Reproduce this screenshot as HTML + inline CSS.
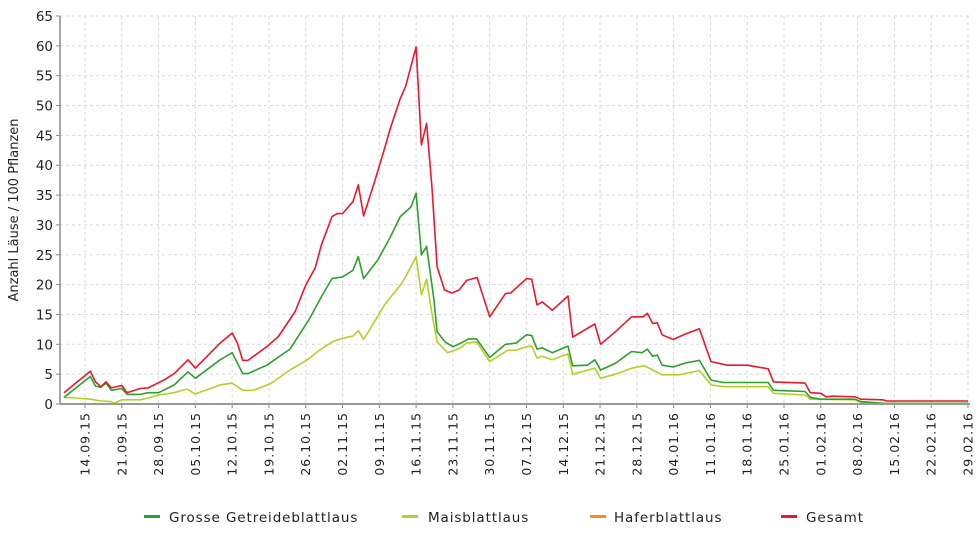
<!DOCTYPE html>
<html><head><meta charset="utf-8"><style>
body{margin:0;background:#fff;}
svg{display:block;font-family:"DejaVu Sans","Liberation Sans",sans-serif;}
</style></head><body>
<svg id="chart" width="978" height="540" viewBox="0 0 978 540" xmlns="http://www.w3.org/2000/svg">
<g id="grid"></g>
<g id="series"></g>
<g id="axes"></g>
<text transform="translate(18,210) rotate(-90)" text-anchor="middle" font-size="13" fill="#222">Anzahl Läuse / 100 Pflanzen</text>
<g font-size="13.5" fill="#222" letter-spacing="0.9">
 <g><rect x="144" y="515" width="16" height="3" fill="#2ca02c"/><text x="169" y="522">Grosse Getreideblattlaus</text></g>
 <g><rect x="402" y="515" width="16" height="3" fill="#b5cf2a"/><text x="428" y="522">Maisblattlaus</text></g>
 <g><rect x="590" y="515" width="16" height="3" fill="#ff8c1a"/><text x="614" y="522">Haferblattlaus</text></g>
 <g><rect x="781" y="515" width="16" height="3" fill="#e8192c"/><text x="806" y="522">Gesamt</text></g>
</g>
</svg>
<script>
const tickLabels=["14.09.15","21.09.15","28.09.15","05.10.15","12.10.15","19.10.15","26.10.15","02.11.15","09.11.15","16.11.15","23.11.15","30.11.15","07.12.15","14.12.15","21.12.15","28.12.15","04.01.16","11.01.16","18.01.16","25.01.16","01.02.16","08.02.16","15.02.16","22.02.16","29.02.16"];
const yTicks=[0,5,10,15,20,25,30,35,40,45,50,55,60,65];
// day offsets from 14.09.15 and values
const gesamtDays=[-4,1,2,3,4,5,7,8,10.5,12,15,17,19.6,21,25.7,28,29,30,31,34.6,36.8,40,42,43.8,45,47,48,49,51,52,53,55,57,58,60,61,63,64,65,66,67,68.4,69.8,71.2,72.6,74.6,77,80,81,84,85,86,87,88.9,91.9,92.8,97,98.1,100.9,104,106.2,107,108,108.9,109.8,111.9,114.4,116.9,119.1,122.2,126,130,131,137,138,140,141,142.2,146.5,147.6,151.8,152.6,168];
const gesamtVals=[1.9,5.5,3.7,2.9,3.7,2.7,3.1,1.9,2.6,2.7,4,5.1,7.4,6,10.2,11.9,10.2,7.3,7.3,9.6,11.3,15.5,19.9,22.8,26.7,31.4,31.9,31.9,33.9,36.7,31.5,37,42.8,45.9,51.2,53.2,59.8,43.4,47,36.4,23,19.1,18.6,19.1,20.7,21.2,14.6,18.5,18.6,21,20.9,16.6,17.1,15.7,18.1,11.2,13.4,10,12.1,14.6,14.6,15.2,13.5,13.6,11.6,10.8,11.8,12.6,7.1,6.5,6.5,5.9,3.7,3.5,1.9,1.8,1.2,1.3,1.2,0.8,0.7,0.5,0.5];
const grosseDays=[-4,1,2,3,4,5,7,8,10.5,12,14,17,19.6,21,25.7,28,30,31,34.6,39,42.6,45,47,49,51,52,53,55.7,58,60,62,63,64,65,66.4,67,68.5,70,71.5,73,74.5,77,80,82,84,85,86,87,88.9,91.9,92.8,95.6,97,98.1,100.9,104,106,107,108,108.9,109.8,111.9,114.4,116.9,119.1,121.5,130,131,137,138,140,146.5,147.6,152,168];
const grosseVals=[1.1,4.6,3,2.8,3.5,2.3,2.6,1.6,1.6,1.9,1.9,3.2,5.4,4.3,7.4,8.6,5.1,5.1,6.5,9.2,14.1,18,21,21.3,22.4,24.7,21,24.1,27.8,31.4,33,35.3,25,26.4,17.4,12.1,10.4,9.6,10.2,10.9,10.9,7.8,10,10.2,11.6,11.5,9.2,9.4,8.6,9.7,6.4,6.5,7.4,5.7,6.8,8.8,8.6,9.2,8,8.2,6.5,6.2,6.9,7.3,4,3.6,3.6,2.3,2.1,1.1,0.8,0.8,0.4,0.1,0.1];
const maisDays=[-4,-1.6,1,3,5,5.5,7,10.5,12,14,17,19.3,21,25.7,28,30,32,35.3,39,42.3,44.3,47,49,51,52,53,57,58,60,61,63,64,65,66,67,69,71.3,72.6,74.5,77,80.4,82,84,85,86,87,88.9,91.9,92.8,97,98.1,100.9,104,106.5,108,109.8,113,116.9,119.1,121.5,130,131,137,138,146.5,147.6,152,168];
const maisVals=[1.1,1.0,0.8,0.5,0.4,0.1,0.7,0.7,1,1.5,1.9,2.5,1.7,3.2,3.5,2.3,2.3,3.4,5.7,7.4,8.8,10.4,11,11.4,12.3,10.8,16.6,17.7,19.9,21.3,24.7,18.3,20.9,15.2,10.4,8.6,9.3,10.2,10.4,7.1,9,9,9.6,9.7,7.7,8,7.4,8.4,5,6,4.3,5,6,6.4,5.7,4.9,4.9,5.6,3.2,2.9,2.9,1.8,1.5,0.8,0.7,0.3,0.1,0.1];
const haferDays=[-4,168];
const haferVals=[0,0];

const NS="http://www.w3.org/2000/svg";
const X0=85,DAY=36.79/7,Y0=404,PX=388/65,LEFT=60,RIGHT=970,TOP=16;
const xs=d=>X0+d*DAY, ys=v=>Y0-v*PX;
function mk(tag,attrs,parent){const e=document.createElementNS(NS,tag);for(const k in attrs)e.setAttribute(k,attrs[k]);parent.appendChild(e);return e;}
const grid=document.getElementById('grid'),axes=document.getElementById('axes'),ser=document.getElementById('series');
yTicks.forEach(v=>{
 const y=ys(v);
 if(v>0){const g=mk('line',{x1:LEFT,x2:RIGHT,y1:y,y2:y,stroke:'#d8d8d8','stroke-dasharray':'3,3'},grid);
 
 }
 const tk=mk('line',{x1:LEFT-4,x2:LEFT,y1:y,y2:y,stroke:'#888'},axes);
 
 
 const t=mk('text',{x:LEFT-7,y:y+5,'text-anchor':'end','font-size':'13.5',fill:'#222'},axes);
 t.textContent=v;
 
 
});
tickLabels.forEach((lab,i)=>{
 const x=xs(i*7);
 const g=mk('line',{x1:x,x2:x,y1:TOP,y2:Y0,stroke:'#d8d8d8','stroke-dasharray':'3,3'},grid);
 
 
 const tk=mk('line',{x1:x,x2:x,y1:Y0,y2:Y0+4,stroke:'#888'},axes);
 
 
 const t=mk('text',{transform:`translate(${x+4.5},${Y0+8}) rotate(-90)`,'text-anchor':'end','font-size':'12.5',fill:'#222','letter-spacing':'1'},axes);
 t.textContent=lab;
 
 
});
const al=mk('line',{x1:LEFT,x2:LEFT,y1:TOP,y2:Y0,stroke:'#888','stroke-width':1.5},axes);


const bl=mk('line',{x1:LEFT,x2:RIGHT,y1:Y0,y2:Y0,stroke:'#999','stroke-width':2},axes);


function line(days,vals,color,name){
 const p=mk('polyline',{points:days.map((d,i)=>xs(d).toFixed(1)+','+ys(vals[i]).toFixed(1)).join(' '),fill:'none',stroke:color,'stroke-width':1.6,'stroke-linejoin':'round'},ser);
 
 
}
line(haferDays,haferVals,'#ff8c1a','series-haferblattlaus');
line(maisDays,maisVals,'#b5cf2a','series-maisblattlaus');
line(grosseDays,grosseVals,'#2ca02c','series-grosse-getreideblattlaus');
line(gesamtDays,gesamtVals,'#e8192c','series-gesamt');
</script>
</body></html>
